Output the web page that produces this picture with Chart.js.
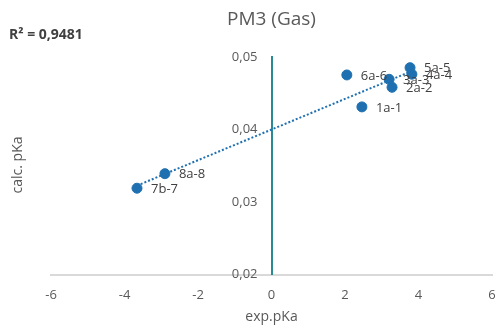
<!DOCTYPE html>
<html lang="en">
<head>
<meta charset="UTF-8">
<title>PM3 (Gas)</title>
<script src="https://cdn.jsdelivr.net/npm/chart.js"></script>
<style>
  body { margin: 0; background: #fff; }
  #wrap { width: 498px; height: 325px; }
</style>
</head>
<body>
<div id="wrap"><canvas id="pkaChart" width="498" height="325"></canvas></div>
<script>
// data
const labels = ['7b-7', '8a-8', '6a-6', '3a-3', '2a-2', '1a-1', '5a-5', '4a-4'];
const expPka = [-3.66, -2.90, 2.05, 3.20, 3.28, 2.46, 3.77, 3.82];
const calcPka = [0.0319, 0.0339, 0.0475, 0.0469, 0.0458, 0.0431, 0.0485, 0.0476];
const xTicks = [-6, -4, -2, 0, 2, 4, 6];
const yTicks = [0.02, 0.03, 0.04, 0.05];
const rSquared = '0,9481';

const FONT = '"Open Sans", "Liberation Sans", sans-serif';
const BLUE = '#1f70b0';

// linear trendline through the points
const n = expPka.length;
const mx = expPka.reduce((a, b) => a + b, 0) / n;
const my = calcPka.reduce((a, b) => a + b, 0) / n;
let sxy = 0, sxx = 0;
for (let i = 0; i < n; i++) {
    sxy += (expPka[i] - mx) * (calcPka[i] - my);
    sxx += (expPka[i] - mx) * (expPka[i] - mx);
}
const slope = sxy / sxx;
const icpt = my - slope * mx;
const xMin = Math.min(...expPka), xMax = Math.max(...expPka);
const trend = [{x: xMin, y: icpt + slope * xMin}, {x: xMax, y: icpt + slope * xMax}];

const extraText = {
    id: 'extraText',
    afterDatasetsDraw(chart) {
        const ctx = chart.ctx;
        const meta = chart.getDatasetMeta(1);
        const xs = chart.scales.x, ys = chart.scales.y;
        ctx.save();
        ctx.font = '13px ' + FONT;
        ctx.fillStyle = '#404040';
        ctx.textBaseline = 'middle';
        ctx.textAlign = 'left';
        meta.data.forEach((pt, i) => {
            ctx.fillText(labels[i], pt.x + 14, pt.y + 1);
        });
        // y tick labels, left of the axis at x = 0
        ctx.fillStyle = '#595959';
        ctx.textAlign = 'right';
        const ax = xs.getPixelForValue(0);
        yTicks.forEach(v => {
            ctx.fillText(v.toFixed(2).replace('.', ','), ax - 14, ys.getPixelForValue(v));
        });
        // R² box
        ctx.textAlign = 'left';
        ctx.fillStyle = '#404040';
        ctx.font = 'bold 14px ' + FONT;
        ctx.fillText('R² = ' + rSquared, 9, 35);
        // y axis title
        ctx.font = '14px ' + FONT;
        ctx.fillStyle = '#595959';
        ctx.translate(18, 165);
        ctx.rotate(-Math.PI / 2);
        ctx.textAlign = 'center';
        ctx.fillText('calc. pKa', 0, 0);
        ctx.restore();
    }
};

const ctx = document.getElementById('pkaChart').getContext('2d');
new Chart(ctx, {
    type: 'scatter',
    data: {
        datasets: [{
            type: 'line',
            data: trend,
            borderColor: BLUE,
            borderWidth: 2,
            borderDash: [2, 2],
            pointRadius: 0,
            fill: false
        }, {
            data: expPka.map((x, i) => ({x: x, y: calcPka[i]})),
            backgroundColor: BLUE,
            borderColor: BLUE,
            pointRadius: 5,
            pointHoverRadius: 5
        }]
    },
    options: {
        responsive: false,
        animation: false,
        layout: { padding: { left: 51, right: 6, top: 0, bottom: 0 } },
        plugins: {
            legend: { display: false },
            tooltip: { enabled: false },
            title: {
                display: true,
                text: 'PM3 (Gas)',
                color: '#595959',
                font: { family: FONT, size: 19, weight: 'normal' },
                padding: { top: 8, bottom: 26 }
            }
        },
        scales: {
            x: {
                type: 'linear',
                min: -6,
                max: 6,
                afterBuildTicks: s => { s.ticks = xTicks.map(v => ({value: v})); },
                afterFit: s => { s.paddingRight = 0; s.paddingLeft = 0; },
                grid: { display: false },
                border: { color: '#d9d9d9', width: 2 },
                ticks: { color: '#595959', font: { family: FONT, size: 13 }, padding: 5 },
                title: {
                    display: true,
                    text: 'exp.pKa',
                    color: '#595959',
                    font: { family: FONT, size: 14 },
                    padding: { top: 0, bottom: 0 }
                }
            },
            y: {
                type: 'linear',
                position: { x: 0 },
                min: 0.02,
                max: 0.05,
                afterBuildTicks: s => { s.ticks = yTicks.map(v => ({value: v})); },
                grid: { display: false },
                border: { color: '#2a8a94', width: 2 },
                ticks: { display: false }
            }
        }
    },
    plugins: [extraText]
});
</script>
</body>
</html>
